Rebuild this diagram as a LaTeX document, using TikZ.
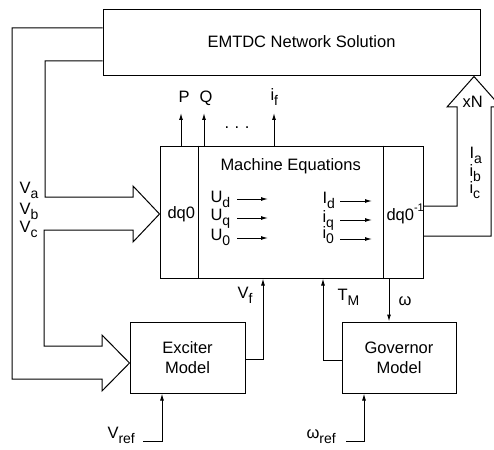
\documentclass[tikz,border=0pt]{standalone}
\usepackage{fontspec}
\setmainfont{Liberation Sans}
\usepackage{tikz}
\usetikzlibrary{calc,arrows.meta,positioning}
\tikzstyle{block}=[draw,rectangle,inner sep=0pt,align=center]
\tikzstyle{lbl}=[inner sep=0pt,anchor=base west]
\newcommand{\lo}[1]{\raisebox{-5pt}{\fontsize{14}{14}\selectfont #1}}
\newcommand{\hi}[1]{\raisebox{9pt}{\fontsize{11}{11}\selectfont #1}}

\begin{document}
\begin{tikzpicture}[x=1pt,y=-1pt,line width=1pt,
every node/.style={font=\fontsize{16.5}{20}\selectfont},
sig/.style={-{Latex[length=7pt,width=4pt]}}]
\useasboundingbox (0,0) rectangle (494,449);
% blocks
\node[block,minimum width=377pt,minimum height=66pt] (net) at (291.5,43) {};
\node[lbl] (nettxt) at (207,48) {EMTDC Network Solution};
\node[block,minimum width=263pt,minimum height=132pt] (mach) at (291.5,212) {};
\node[block,minimum width=115pt,minimum height=71pt] (exc) at (187.5,357.5) {Exciter\\Model};
\node[block,minimum width=114pt,minimum height=71pt] (gov) at (399,357.5) {Governor\\Model};
\draw (mach.north west) ++(39,0) -- ++(0,132);
\draw (mach.north east) ++(-40,0) -- ++(0,132);
% machine contents
\node[lbl] (eqs) at (220,170) {Machine Equations};
\node[lbl] (dq) at (167,218) {dq0};
\node[lbl] (dqi) at (386,220) {dq0\hi{-1}};
\node[lbl] (ud) at (210,202) {U\lo{d}};
\node[lbl] (uq) at (210,220) {U\lo{q}};
\node[lbl] (uo) at (210,240) {U\lo{0}};
\node[lbl] (id) at (322,203) {I\lo{d}};
\node[lbl] (iq) at (322,222) {i\lo{q}};
\node[lbl] (io) at (322,238) {i\lo{0}};
\foreach \y in {199,218,238} \draw[sig] (237,\y) -- (268,\y);
\foreach \y in {201,220,239} \draw[sig] (340,\y) -- (372,\y);
% outputs on top
\node[lbl] (p) at (178,103) {P};
\node[lbl] (q) at (199,103) {Q};
\node[lbl] (if) at (270,101) {i\lo{f}};
\node (dots) at (237,128) {.\,\,.\,\,.};
\draw[sig] (mach.north -| 181,0) -- (181,113);
\draw[sig] (mach.north -| 204,0) -- (204,113);
\draw[sig] (mach.north -| 274,0) -- (274,113);
% network voltages in
\node[lbl] (va) at (19,193) {V\lo{a}};
\node[lbl] (vb) at (19,214) {V\lo{b}};
\node[lbl] (vc) at (19,232) {V\lo{c}};
\draw (net.west |- 0,28) -- (12,28) -- (12,379) -- (102,379) -- (102,391)
  -- (exc.west |- 0,363) -- (102,335) -- (102,346) -- (44,346) -- (44,230)
  -- (133,230) -- (133,242) -- (mach.west |- 0,214) -- (133,186) -- (133,197)
  -- (45,197) -- (45,61) -- (net.west |- 0,61);
% currents out
\node[lbl] (ia) at (469,158) {I\lo{a}};
\node[lbl] (ib) at (469,176) {i\lo{b}};
\node[lbl] (ic) at (469,193) {i\lo{c}};
\node[lbl] (xn) at (462,108) {xN};
\draw (mach.east |- 0,206) -- (457,206) -- (457,107) -- (447,107)
  -- (net.south -| 474,0) -- (501,107) -- (491,107) -- (491,236)
  -- (mach.east |- 0,236);
% exciter and governor
\node[lbl] (vftxt) at (237,298) {V\lo{f}};
\node[lbl] (tm) at (337,300) {T\lo{M}};
\node[lbl] (w) at (398,305) {ω};
\draw[sig] (exc.east |- 0,359) -| (mach.south -| 263,0);
\draw[sig] (gov.west |- 0,360) -| (mach.south -| 323,0);
\draw[sig] (mach.south -| 389,0) -- (gov.north -| 389,0);
\node[lbl] (vref) at (107,438) {V\lo{ref}};
\node[lbl] (wref) at (306,438) {ω\lo{ref}};
\coordinate (vr) at (143,441);
\coordinate (wr) at (346,441);
\draw[sig] (vr) -| (exc.south -| 162,0);
\draw[sig] (wr) -| (gov.south -| 364,0);
\end{tikzpicture}
\end{document}
